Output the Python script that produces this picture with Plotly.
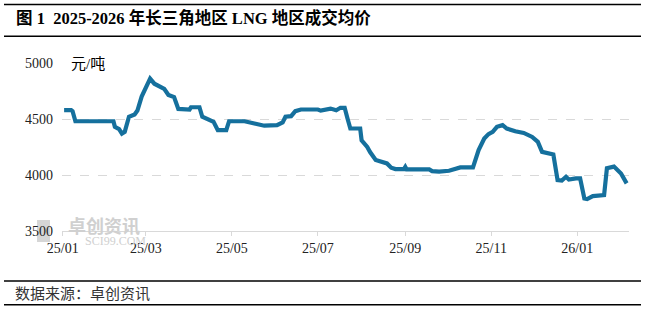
import plotly.graph_objects as go

# ---- data ----
dates = [
    "2025-01-02", "2025-01-07", "2025-01-08", "2025-01-10", "2025-02-06", "2025-02-07",
    "2025-02-10", "2025-02-12", "2025-02-14", "2025-02-17", "2025-02-21", "2025-02-23",
    "2025-02-26", "2025-02-28", "2025-03-04", "2025-03-07", "2025-03-10", "2025-03-14",
    "2025-03-17", "2025-03-21", "2025-03-24", "2025-04-01", "2025-04-02", "2025-04-08",
    "2025-04-10", "2025-04-15", "2025-04-18", "2025-04-21", "2025-04-27", "2025-04-29",
    "2025-05-10", "2025-05-17", "2025-05-24", "2025-06-02", "2025-06-06", "2025-06-08",
    "2025-06-12", "2025-06-15", "2025-06-19", "2025-07-01", "2025-07-03", "2025-07-10",
    "2025-07-14", "2025-07-17", "2025-07-20", "2025-07-22", "2025-07-24", "2025-07-31",
    "2025-08-01", "2025-08-05", "2025-08-07", "2025-08-11", "2025-08-16", "2025-08-19",
    "2025-08-22", "2025-08-25", "2025-08-31", "2025-09-01", "2025-09-02", "2025-09-18",
    "2025-09-20", "2025-09-25", "2025-10-02", "2025-10-09", "2025-10-10", "2025-10-19",
    "2025-10-21", "2025-10-23", "2025-10-27", "2025-10-30", "2025-11-02", "2025-11-05",
    "2025-11-09", "2025-11-12", "2025-11-18", "2025-11-24", "2025-11-30", "2025-12-04",
    "2025-12-07", "2025-12-11", "2025-12-15", "2025-12-18", "2025-12-21", "2025-12-24",
    "2025-12-26", "2025-12-31", "2026-01-03", "2026-01-06", "2026-01-08", "2026-01-12",
    "2026-01-20", "2026-01-22", "2026-01-27", "2026-02-01", "2026-02-04", "2026-02-05",
]
prices = [
    4580, 4580, 4570, 4480, 4480, 4430,
    4410, 4370, 4385, 4520, 4540, 4575,
    4700, 4755, 4860, 4815, 4795, 4770,
    4715, 4695, 4590, 4585, 4605, 4605,
    4520, 4490, 4475, 4400, 4400, 4480,
    4480, 4460, 4440, 4445, 4470, 4520,
    4525, 4570, 4585, 4585, 4575, 4593,
    4578, 4600, 4600, 4505, 4415, 4415,
    4310, 4250, 4205, 4135, 4118, 4103,
    4065, 4053, 4053, 4073, 4050, 4050,
    4035, 4030, 4038, 4060, 4068, 4068,
    4148, 4222, 4326, 4365, 4385, 4430,
    4445, 4415, 4390, 4376, 4340, 4296,
    4207, 4192, 4184, 3955, 3950, 3984,
    3960, 3970, 3970, 3791, 3785, 3812,
    3820, 4060, 4075, 4014, 3940, 3925,
]
tick_dates = ["2025-01-01", "2025-03-01", "2025-05-01", "2025-07-01",
              "2025-09-01", "2025-11-01", "2026-01-01"]
tick_labels = ["25/01", "25/03", "25/05", "25/07", "25/09", "25/11", "26/01"]
y_ticks = [3500, 4000, 4500, 5000]

title_text = "图 1  2025-2026 年长三角地区 LNG 地区成交均价"
unit_text = "元/吨"
source_text = "数据来源：卓创资讯"

LINE_COLOR = "#15709D"
GRID = "#d9d9d9"
SERIF = "Liberation Serif, Noto Sans CJK SC"

# plot area in pixels
PL, PR, PT, PB = 62, 629, 62.7, 231
W, H = 645, 312


def px(x):
    return (x - PL) / (PR - PL)


def py(y):
    return (PB - y) / (PB - PT)


fig = go.Figure()
fig.add_trace(go.Scatter(
    x=dates, y=prices, mode="lines",
    line=dict(color=LINE_COLOR, width=4.2),
    hoverinfo="skip", showlegend=False,
))

fig.update_layout(
    width=W, height=H,
    margin=dict(l=PL, r=W - PR, t=PT, b=H - PB),
    paper_bgcolor="white", plot_bgcolor="white",
    showlegend=False,
    xaxis=dict(
        type="date",
        range=["2024-12-31 12:00", "2026-02-06 16:00"],
        tickvals=tick_dates, ticktext=tick_labels,
        showgrid=False, showline=True, linecolor=GRID, linewidth=1,
        ticks="outside", ticklen=4, tickcolor=GRID,
        tickfont=dict(family=SERIF, size=14, color="#222"),
        zeroline=False,
    ),
    yaxis=dict(
        range=[3500, 5000], tickvals=y_ticks,
        showgrid=True, gridcolor=GRID, griddash="dash", gridwidth=1,
        showline=False, zeroline=False, ticks="",
        ticklabelstandoff=8,
        tickfont=dict(family=SERIF, size=14, color="#222"),
    ),
)

shapes = []
for yy in (4, 36, 281, 305):
    shapes.append(dict(type="line", xref="paper", yref="paper",
                       x0=px(4), x1=px(641), y0=py(yy), y1=py(yy),
                       line=dict(color="black", width=1.5)))
# watermark logo square
shapes.append(dict(type="rect", xref="paper", yref="paper",
                   x0=px(37), x1=px(50), y0=py(242), y1=py(220),
                   fillcolor="#d6d6d6", line=dict(width=0), layer="below"))
fig.update_layout(shapes=shapes)

annotations = [
    dict(text=title_text, x=px(14), y=py(18), xref="paper", yref="paper",
         xanchor="left", yanchor="middle", showarrow=False,
         font=dict(family=SERIF, size=16.5, color="black", weight="bold")),
    dict(text=unit_text, x=px(69), y=py(64), xref="paper", yref="paper",
         xanchor="left", yanchor="middle", showarrow=False,
         font=dict(family=SERIF, size=15, color="black")),
    dict(text=source_text, x=px(13), y=py(293), xref="paper", yref="paper",
         xanchor="left", yanchor="middle", showarrow=False,
         font=dict(family="Noto Sans CJK SC", size=15, color="#333")),
    dict(text="卓创资讯", x=px(66), y=py(225), xref="paper", yref="paper",
         xanchor="left", yanchor="middle", showarrow=False,
         font=dict(family="Noto Sans CJK SC", size=18, color="#d0d0d0", weight="bold")),
    dict(text="SCI99.COM", x=px(83), y=py(241), xref="paper", yref="paper",
         xanchor="left", yanchor="middle", showarrow=False,
         font=dict(family="Liberation Serif", size=12, color="#d0d0d0")),
]
fig.update_layout(annotations=annotations)

fig.write_html("out.html")
